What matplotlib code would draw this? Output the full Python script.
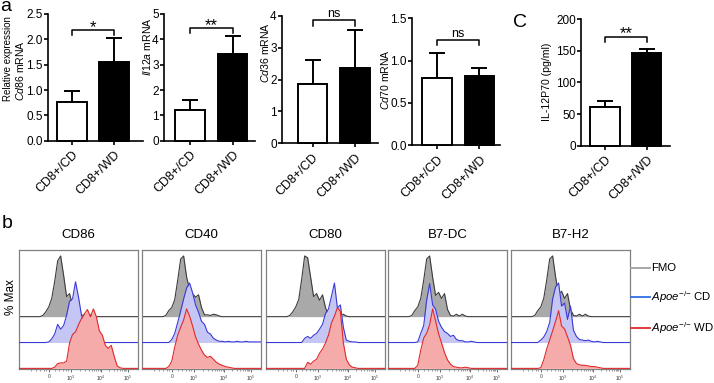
import numpy as np
import matplotlib
matplotlib.use('Agg')
import matplotlib.pyplot as plt
from matplotlib.lines import Line2D

plt.rcParams['font.family'] = ['Liberation Sans', 'DejaVu Sans']
plt.rcParams['mathtext.fontset'] = 'custom'
plt.rcParams['mathtext.rm'] = 'Liberation Sans'
plt.rcParams['mathtext.it'] = 'Liberation Sans:italic'
plt.rcParams['mathtext.bf'] = 'Liberation Sans:bold'

# ---------------- data: panel a / c (bar charts) ----------------
groups = ['CD8+/CD', 'CD8+/WD']
cd86_mean = [0.77, 1.55]
cd86_err = [0.21, 0.47]
il12a_mean = [1.21, 3.44]
il12a_err = [0.39, 0.68]
cd36_mean = [1.87, 2.38]
cd36_err = [0.75, 1.19]
cd70_mean = [0.79, 0.82]
cd70_err = [0.30, 0.09]
il12p70_mean = [61, 147]
il12p70_err = [10, 6]
sig_labels = ['*', '**', 'ns', 'ns', '**']
sig_heights = [2.18, 4.45, 3.86, 1.24, 172]
sig_tips = [2.08, 4.25, 3.70, 1.18, 164]
y_max = [2.5, 5, 4, 1.5, 200]
y_step = [0.5, 1, 1, 0.5, 50]
y_labels = [['Relative expression', '$\\mathit{Cd86}$ mRNA'], ['$\\mathit{Il12a}$ mRNA'],
            ['$\\mathit{Cd36}$ mRNA'], ['$\\mathit{Cd70}$ mRNA'], ['IL-12P70 (pg/ml)']]

# ---------------- data: panel b (flow histograms, % of max) ----------------
markers = ['CD86', 'CD40', 'CD80', 'B7-DC', 'B7-H2']
channel = [0.000, 0.025, 0.050, 0.075, 0.100, 0.125, 0.150, 0.175, 0.200, 0.225,
           0.250, 0.275, 0.300, 0.325, 0.350, 0.375, 0.400, 0.425, 0.450, 0.475,
           0.500, 0.525, 0.550, 0.575, 0.600, 0.625, 0.650, 0.675, 0.700, 0.725,
           0.750, 0.775, 0.800, 0.825, 0.850, 0.875, 0.900, 0.925, 0.950, 0.975, 1.000]
cd86_fmo = [0,0,0,0,0,0,0,0, 0.02,0.08,0.16,0.30,0.58,0.92,1.00,0.68,0.33,0.38,0.18,0.04,0.02,0.02,0.03,0.01,0.03,0.01, 0,0,0,0,0,0,0,0,0,0,0,0,0,0,0]
cd86_cd = [0,0,0,0,0,0,0,0,0,0, 0.01,0.06,0.14,0.30,0.22,0.28,0.45,0.68,0.72,1.00,0.75,0.45,0.30,0.18,0.08,0.03,0.01, 0,0,0,0,0,0,0,0,0,0,0,0,0,0]
cd86_wd = [0,0,0,0,0,0,0,0,0,0,0,0, 0.02,0.08,0.09,0.09,0.12,0.42,0.56,0.60,0.72,0.82,0.90,0.97,0.85,0.98,0.85,0.62,0.55,0.38,0.33,0.38,0.20,0.04,0.01, 0,0,0,0,0,0]
cd40_fmo = [0,0,0,0,0,0,0,0, 0.02,0.10,0.15,0.28,0.60,0.95,1.00,0.65,0.45,0.38,0.32,0.36,0.15,0.03,0.03,0.02,0.04,0.03,0.01, 0,0,0,0,0,0,0,0,0,0,0,0,0,0]
cd40_cd = [0,0,0,0,0,0,0,0,0,0, 0.05,0.15,0.33,0.52,0.72,0.90,0.98,0.82,0.62,0.50,0.35,0.30,0.17,0.14,0.07,0.04,0.02,0.02,0.01,0.02,0.01,0.01,0.02,0.01,0.01,0.02,0.01,0.01,0.01,0.01,0.01]
cd40_wd = [0,0,0,0,0,0,0,0,0, 0.03,0.12,0.35,0.55,0.68,0.80,0.98,0.86,0.70,0.52,0.40,0.30,0.22,0.18,0.20,0.15,0.10,0.07,0.05,0.03,0.02,0.01, 0,0,0,0,0,0,0,0,0,0]
cd80_fmo = [0,0,0,0,0,0,0,0, 0.02,0.08,0.16,0.28,0.62,1.00,0.97,0.65,0.33,0.38,0.27,0.36,0.15,0.02,0.01,0.01,0.01,0.02,0.04,0.01, 0,0,0,0,0,0,0,0,0,0,0,0,0]
cd80_cd = [0,0,0,0,0,0,0,0,0,0,0,0,0, 0.07,0.10,0.07,0.12,0.15,0.22,0.30,0.48,0.55,0.76,0.98,0.57,0.62,0.25,0.04,0.02,0.01,0.01, 0,0,0,0,0,0,0,0,0,0]
cd80_wd = [0,0,0,0,0,0,0,0,0,0,0,0,0,0, 0.10,0.07,0.12,0.15,0.25,0.32,0.42,0.55,0.75,0.86,1.00,0.94,0.42,0.15,0.06,0.02,0.01, 0,0,0,0,0,0,0,0,0,0]
b7dc_fmo = [0,0,0,0,0,0,0,0, 0.02,0.10,0.16,0.30,0.60,0.95,1.00,0.65,0.35,0.40,0.30,0.38,0.12,0.02,0.01,0.04,0.01,0.04,0.01, 0,0,0,0,0,0,0,0,0,0,0,0,0,0]
b7dc_cd = [0,0,0,0,0,0,0,0,0,0, 0.01,0.15,0.28,0.70,0.97,0.62,0.55,0.35,0.25,0.18,0.15,0.10,0.12,0.05,0.03,0.03,0.01,0.01,0.02,0.01, 0,0,0,0,0,0,0,0,0,0,0]
b7dc_wd = [0,0,0,0,0,0,0,0,0,0, 0.05,0.30,0.50,0.58,0.72,0.98,0.78,0.57,0.42,0.26,0.14,0.07,0.03,0.02,0.01,0.01,0.02,0.01, 0,0,0,0,0,0,0,0,0,0,0,0,0]
b7h2_fmo = [0,0,0,0,0,0,0,0, 0.02,0.10,0.16,0.30,0.60,0.95,1.00,0.65,0.35,0.42,0.30,0.38,0.12,0.02,0.01,0.04,0.01,0.04,0.01, 0,0,0,0,0,0,0,0,0,0,0,0,0,0]
b7h2_cd = [0,0,0,0,0,0,0,0,0,0, 0.04,0.09,0.18,0.33,0.72,0.92,0.98,0.60,0.65,0.38,0.60,0.20,0.10,0.05,0.04,0.03,0.04,0.02,0.01,0.02,0.01, 0,0,0,0,0,0,0,0,0,0]
b7h2_wd = [0,0,0,0,0,0,0,0,0,0, 0.01,0.14,0.32,0.47,0.62,0.78,0.95,0.70,0.65,0.52,0.38,0.16,0.08,0.06,0.05,0.05,0.04,0.03,0.03,0.02,0.01, 0,0,0,0,0,0,0,0,0,0]
hist_tick_pos = [0.255, 0.437, 0.689, 0.913]
hist_tick_lab = ['0', '$10^3$', '$10^4$', '$10^5$']
legend_labels = ['FMO', '$\\mathit{Apoe}^{{-}/{-}}$ CD', '$\\mathit{Apoe}^{{-}/{-}}$ WD']

# ---------------- figure ----------------
W, H = 714, 383
fig = plt.figure(figsize=(W / 100, H / 100), dpi=100)


def px_axes(x0, y0, x1, y1):
    return fig.add_axes([x0 / W, 1 - y1 / H, (x1 - x0) / W, (y1 - y0) / H])


# (spine_x, end_x, centre0, centre1, zero_y, top_y)
bar_layout = [
    (48, 143, 72, 114, 140.7, 14.0),
    (164, 255, 190, 232.5, 140.7, 14.0),
    (282, 378, 312.5, 355, 143.3, 16.0),
    (412, 500, 437, 479.5, 145.0, 18.3),
    (581, 670, 605, 646.5, 145.7, 19.0),
]
# y-label placement: list of (x centre, y centre, size) per text line, pixels
ylabel_pos = [[(8, 59, 7.0), (20, 71, 7.6)], [(147, 47, 7.6)], [(265, 53, 7.6)],
              [(385, 80, 7.6)], [(547, 82, 7.6)]]
means = [cd86_mean, il12a_mean, cd36_mean, cd70_mean, il12p70_mean]
errs = [cd86_err, il12a_err, cd36_err, cd70_err, il12p70_err]

for i, (sx, ex, c0, c1, zy, ty) in enumerate(bar_layout):
    ax = px_axes(sx, ty, ex, zy)
    s = c1 - c0
    ax.set_xlim((sx - c0) / s, (ex - c0) / s)
    ax.set_ylim(0, y_max[i])
    x = np.arange(len(groups))
    ax.bar(x, means[i], width=0.7, color=['white', 'black'], edgecolor='black',
           linewidth=1.4, zorder=3, clip_on=False)
    ax.errorbar(x, means[i], yerr=[[0, 0], errs[i]], fmt='none', ecolor='black',
                elinewidth=1.4, capsize=6, capthick=1.4, zorder=2, clip_on=False)
    ax.plot([0, 0, 1, 1], [sig_tips[i], sig_heights[i], sig_heights[i], sig_tips[i]],
            color='black', lw=1.1, clip_on=False)
    star = '*' in sig_labels[i]
    ax.annotate(sig_labels[i], (0.5, sig_heights[i]), xytext=(0, -3.5 if star else 0.5),
                textcoords='offset points', ha='center', va='bottom',
                fontsize=12 if star else 9)
    for side in ['top', 'right']:
        ax.spines[side].set_visible(False)
    for side in ['left', 'bottom']:
        ax.spines[side].set_linewidth(1.2)
    ticks = np.arange(0, y_max[i] + y_step[i] / 2, y_step[i])
    ax.set_yticks(ticks)
    if y_step[i] < 1:
        ax.set_yticklabels(['%.1f' % v for v in ticks])
    ax.set_xticks(x)
    ax.set_xticklabels(groups, rotation=45, ha='right', rotation_mode='anchor')
    ax.tick_params(axis='both', direction='out', length=3, width=1.2, labelsize=8.5, pad=0.8)
    ax.tick_params(axis='x', labelsize=9, pad=3)
    for txt, (lx, ly, fsz) in zip(y_labels[i], ylabel_pos[i]):
        fig.text(lx / W, 1 - ly / H, txt, rotation=90, ha='center', va='center', fontsize=fsz)

# panel letters
fig.text(0 / W, 1 - 11 / H, 'a', fontsize=14, va='baseline')
fig.text(513 / W, 1 - 27 / H, 'C', fontsize=14, va='baseline')
fig.text(2 / W, 1 - 228 / H, 'b', fontsize=14, va='baseline')

# ---------------- panel b ----------------
hist_sets = [
    (cd86_fmo, cd86_cd, cd86_wd),
    (cd40_fmo, cd40_cd, cd40_wd),
    (cd80_fmo, cd80_cd, cd80_wd),
    (b7dc_fmo, b7dc_cd, b7dc_wd),
    (b7h2_fmo, b7h2_cd, b7h2_wd),
]
panel_left = [19, 142, 266, 388, 511]
offsets = [0.852, 0.426, 0.0]
fill_cols = ['#a9a9a9', '#c6c6f5', '#f6abab']
line_cols = ['#3c3c3c', '#3a3ad8', '#e02a2a']

d3, d4, d5 = hist_tick_pos[1], hist_tick_pos[2], hist_tick_pos[3]
minor = [0.10, 0.14, 0.18, 0.21, 0.23, 0.30, 0.34, 0.37, 0.395, 0.415]
for k in range(2, 10):
    minor.append(d3 + (d4 - d3) * np.log10(k))
    minor.append(d4 + (d5 - d4) * np.log10(k))

x = np.array(channel)
for p, name in enumerate(markers):
    ax = px_axes(panel_left[p], 250, panel_left[p] + 119, 369)
    ax.set_xlim(0, 1)
    ax.set_ylim(-0.01, 1.95)
    for j in range(3):
        yv = offsets[j] + np.array(hist_sets[p][j])
        ax.fill_between(x, offsets[j], yv, color=fill_cols[j], lw=0, zorder=2 + j)
        ax.plot(x, yv, color=line_cols[j], lw=0.8, zorder=2.5 + j)
    for sp in ax.spines.values():
        sp.set_color('#808080')
        sp.set_linewidth(0.9)
    ax.set_yticks([])
    ax.set_xticks(hist_tick_pos)
    ax.set_xticklabels(hist_tick_lab, fontsize=3.5, color='#333333')
    ax.set_xticks(minor, minor=True)
    ax.tick_params(axis='x', which='major', direction='out', length=2.2, width=0.6,
                   color='#555555', pad=1.5)
    ax.tick_params(axis='x', which='minor', direction='out', length=1.3, width=0.4,
                   color='#555555')
    ax.set_title(name, fontsize=9.5, pad=9)

fig.text(11 / W, 1 - 297 / H, '% Max', rotation=90, ha='center', va='center', fontsize=8.5)

# legend
leg_y = [268, 297, 328]
leg_cols = ['#a0a0a0', '#2f6fe0', '#e02a2a']
for j in range(3):
    fig.add_artist(Line2D([631 / W, 650 / W], [1 - leg_y[j] / H, 1 - leg_y[j] / H],
                          color=leg_cols[j], lw=1.3))
    fig.text(651 / W, 1 - leg_y[j] / H, legend_labels[j], fontsize=8.2, va='center', ha='left')

fig.savefig('out.png', dpi=100)
